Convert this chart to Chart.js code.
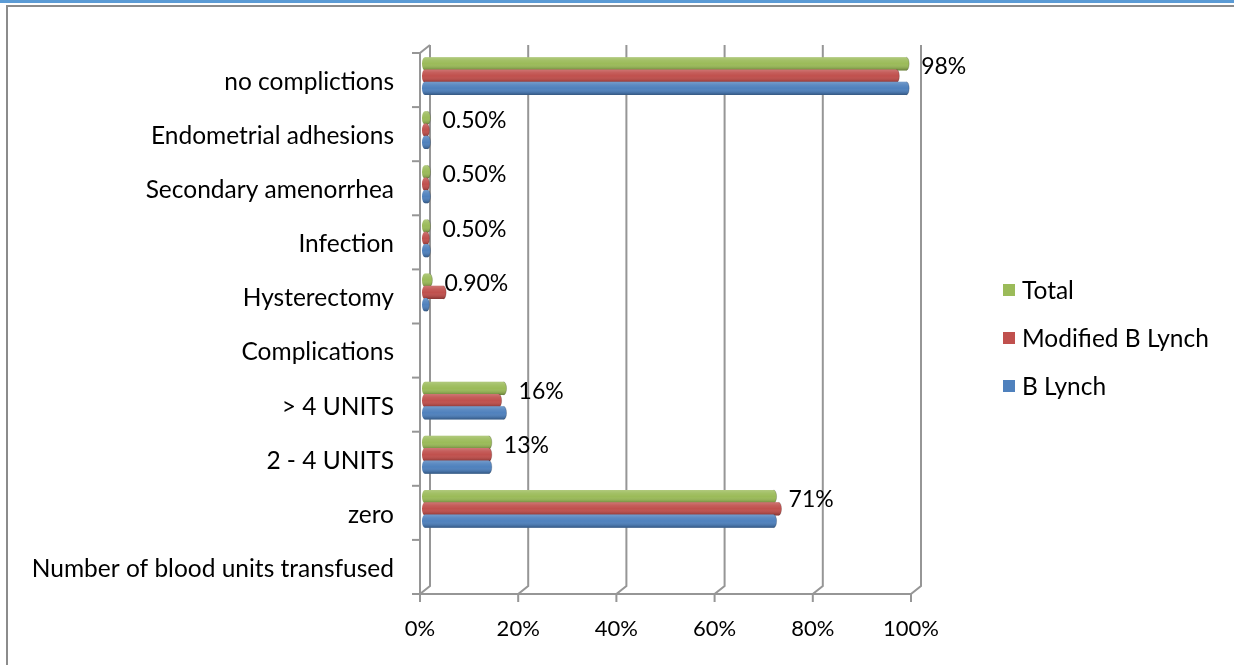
<!DOCTYPE html>
<html>
<head>
<meta charset="utf-8">
<script src="https://cdn.jsdelivr.net/npm/chart.js@4.4.1/dist/chart.umd.min.js"></script>
<style>
  html, body { margin: 0; padding: 0; background: #fff; }
  #wrap { position: relative; width: 1234px; height: 665px; overflow: hidden; }
  #c { position: absolute; left: 0; top: 0; }
  .band { position: absolute; left: 0; top: 0; width: 1234px; height: 3px; background: #5b9bd5; }
  .rule-top { position: absolute; left: 6px; top: 5px; width: 1228px; height: 2px; background: #8c8c8c; }
  .rule-left { position: absolute; left: 6px; top: 5px; width: 2px; height: 660px; background: #8c8c8c; }
</style>
</head>
<body>
<div id="wrap">
  <canvas id="c" width="1234" height="665"></canvas>
  <div class="band"></div>
  <div class="rule-top"></div>
  <div class="rule-left"></div>
</div>
<script>
// Categories listed top to bottom
const categories = [
  'no complictions',
  'Endometrial adhesions',
  'Secondary amenorrhea',
  'Infection',
  'Hysterectomy',
  'Complications',
  '> 4 UNITS',
  '2 - 4 UNITS',
  'zero',
  'Number of blood units transfused'
];

// Percentages per series (null = heading row without bars)
const totalValues    = [98, 0.5, 0.5, 0.5, 0.9, null, 16, 13, 71, null];
const modifiedValues = [96, 0.3, 0.3, 0.3, 3.7, null, 15, 13, 72, null];
const bLynchValues   = [98, 0.5, 0.5, 0.5, 0.3, null, 16, 13, 71, null];

const seriesNames  = ['Total', 'Modified B Lynch', 'B Lynch'];
const seriesColors = ['#9bbb59', '#c0504d', '#4f81bd'];

// Percent axis ticks
const axisMin = 0, axisMax = 100, axisStep = 20;

const FAMILY = 'Lato';
const CAT_FONT = { family: FAMILY, size: 24.5 };
const AXIS_FONT = { family: FAMILY, size: 22 };
const LABEL_CSS = '23px ' + FAMILY;
const LEGEND_CSS = '24.5px ' + FAMILY;
const TEXT = '#000000';
const WALL = '#969696';
const DX = 5, DY = 4;   // depth offset of the 3-D walls
const CAP = 3;          // half-width of the cylinder end caps

function fmtPct(v) {
  return v < 1 ? v.toFixed(2) + '%' : Math.round(v) + '%';
}

// Back wall, floor edge and gridlines with a small perspective offset
const wallPlugin = {
  id: 'walls',
  beforeDatasetsDraw(chart) {
    const ctx = chart.ctx, xs = chart.scales.x, ys = chart.scales.y;
    const { top, bottom } = chart.chartArea;
    const x0 = xs.getPixelForValue(axisMin);
    const x1 = xs.getPixelForValue(axisMax);
    ctx.save();
    ctx.strokeStyle = WALL;
    ctx.lineWidth = 2;
    xs.ticks.forEach(t => {
      const xm = xs.getPixelForValue(t.value);
      ctx.beginPath();
      ctx.moveTo(xm + DX, top - DY);
      ctx.lineTo(xm + DX, bottom - DY);
      ctx.lineTo(xm - DX, bottom + DY);
      ctx.lineTo(xm - DX, bottom + DY + 8);
      ctx.stroke();
    });
    // front edge of the floor
    ctx.beginPath();
    ctx.moveTo(x0 - DX - 8, bottom + DY);
    ctx.lineTo(x1 - DX, bottom + DY);
    ctx.stroke();
    // front edge of the side wall
    ctx.beginPath();
    ctx.moveTo(x0 + DX, top - DY);
    ctx.lineTo(x0 - DX, top + DY);
    ctx.lineTo(x0 - DX, bottom + DY);
    ctx.stroke();
    // category ticks
    for (let k = 0; k <= categories.length; k++) {
      const y = ys.getPixelForValue(k - 0.5) + DY;
      ctx.beginPath();
      ctx.moveTo(x0 - DX - 8, y);
      ctx.lineTo(x0 - DX, y);
      ctx.stroke();
    }
    ctx.restore();
  }
};

// Cylinder look: elliptical end caps plus a vertical light/dark gradient
function capsulePath(ctx, base, x, y, h) {
  const t = y - h / 2, b = y + h / 2;
  ctx.beginPath();
  ctx.moveTo(base, t);
  ctx.lineTo(x, t);
  ctx.ellipse(x, y, CAP, h / 2, 0, -Math.PI / 2, Math.PI / 2);
  ctx.lineTo(base, b);
  ctx.ellipse(base, y, CAP, h / 2, 0, Math.PI / 2, Math.PI * 1.5);
  ctx.closePath();
}

const shadePlugin = {
  id: 'shade',
  afterDatasetsDraw(chart) {
    const ctx = chart.ctx;
    chart.data.datasets.forEach((ds, di) => {
      const meta = chart.getDatasetMeta(di);
      meta.data.forEach((el, i) => {
        if (ds.data[i] == null) return;
        const p = el.getProps(['x', 'y', 'base', 'height'], true);
        const h = p.height + 1, t = p.y - h / 2;
        ctx.save();
        capsulePath(ctx, p.base, p.x, p.y, h);
        ctx.fillStyle = ds.backgroundColor;
        ctx.fill();
        const g = ctx.createLinearGradient(0, t, 0, t + h);
        g.addColorStop(0, 'rgba(255,255,255,0.22)');
        g.addColorStop(0.25, 'rgba(255,255,255,0.08)');
        g.addColorStop(0.5, 'rgba(255,255,255,0)');
        g.addColorStop(0.85, 'rgba(0,0,0,0.14)');
        g.addColorStop(1, 'rgba(0,0,0,0.32)');
        ctx.fillStyle = g;
        ctx.fill();
        // darker rim on the far end cap
        ctx.beginPath();
        ctx.ellipse(p.x, p.y, CAP, h / 2, 0, -Math.PI / 2, Math.PI / 2);
        ctx.strokeStyle = 'rgba(0,0,0,0.18)';
        ctx.lineWidth = 1;
        ctx.stroke();
        ctx.restore();
      });
    });
  }
};

// Value labels beside the Total bars
const labelPlugin = {
  id: 'valueLabels',
  afterDatasetsDraw(chart) {
    const ctx = chart.ctx;
    const meta = chart.getDatasetMeta(0);
    ctx.save();
    ctx.font = LABEL_CSS;
    ctx.fillStyle = TEXT;
    ctx.textAlign = 'left';
    ctx.textBaseline = 'middle';
    meta.data.forEach((el, i) => {
      const v = totalValues[i];
      if (v == null) return;
      const p = el.getProps(['x', 'y'], true);
      ctx.fillText(fmtPct(v), p.x + 15, p.y + 3);
    });
    ctx.restore();
  }
};

// Legend on the right
const legendPlugin = {
  id: 'sideLegend',
  afterDraw(chart) {
    const ctx = chart.ctx;
    ctx.save();
    ctx.font = LEGEND_CSS;
    ctx.textAlign = 'left';
    ctx.textBaseline = 'middle';
    chart.data.datasets.forEach((ds, i) => {
      const cy = 290 + i * 48;
      ctx.fillStyle = ds.backgroundColor;
      ctx.fillRect(1003, cy - 6, 12, 12);
      ctx.fillStyle = TEXT;
      ctx.fillText(ds.label, 1022, cy + 1);
    });
    ctx.restore();
  }
};

const seriesValues = [totalValues, modifiedValues, bLynchValues];

new Chart(document.getElementById('c'), {
  type: 'bar',
  data: {
    labels: categories,
    datasets: seriesNames.map((name, i) => ({
      label: name,
      data: seriesValues[i],
      backgroundColor: seriesColors[i],
      borderWidth: 0,
      borderRadius: 0,
      categoryPercentage: 0.68,
      barPercentage: 1.0
    }))
  },
  options: {
    indexAxis: 'y',
    responsive: false,
    animation: false,
    layout: { padding: { top: 49, right: 318, bottom: 0, left: 0 } },
    scales: {
      x: {
        min: axisMin,
        max: axisMax,
        ticks: {
          stepSize: axisStep,
          callback: v => v + '%',
          labelOffset: -DX,
          padding: 26,
          font: AXIS_FONT,
          color: TEXT
        },
        grid: { display: false, drawTicks: false },
        border: { display: false },
        afterFit(s) { s.height = 75; }
      },
      y: {
        ticks: {
          autoSkip: false,
          padding: 31,
          labelOffset: 6,
          font: CAT_FONT,
          color: TEXT
        },
        grid: { display: false, drawTicks: false },
        border: { display: false },
        afterFit(s) { s.width = 425; }
      }
    },
    plugins: {
      legend: { display: false },
      tooltip: { enabled: false }
    }
  },
  plugins: [wallPlugin, shadePlugin, labelPlugin, legendPlugin]
});
</script>
</body>
</html>
